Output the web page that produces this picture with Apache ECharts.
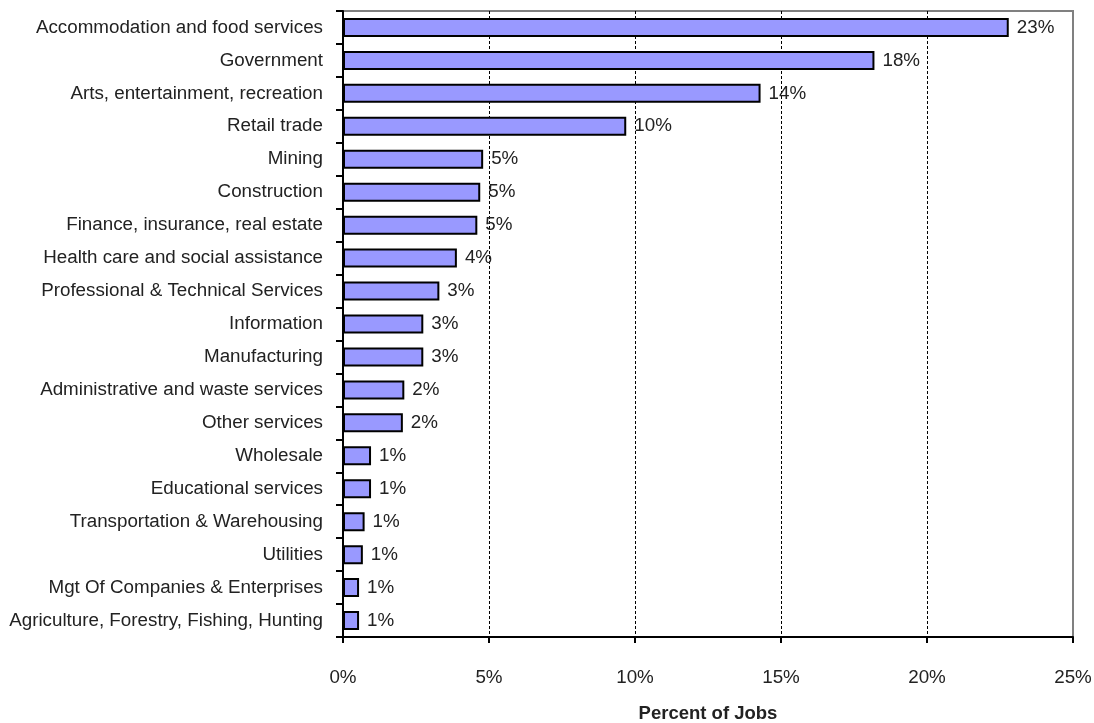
<!DOCTYPE html>
<html>
<head>
<meta charset="utf-8">
<script src="https://cdn.jsdelivr.net/npm/echarts@6/dist/echarts.min.js"></script>
<style>
  html, body { margin: 0; padding: 0; background: #fff; }
  #chart { width: 1094px; height: 723px; }
</style>
</head>
<body>
<div id="chart"></div>
<script>
// Share of jobs by industry (percent)
const industries = [
  'Accommodation and food services',
  'Government',
  'Arts, entertainment, recreation',
  'Retail trade',
  'Mining',
  'Construction',
  'Finance, insurance, real estate',
  'Health care and social assistance',
  'Professional & Technical Services',
  'Information',
  'Manufacturing',
  'Administrative and waste services',
  'Other services',
  'Wholesale',
  'Educational services',
  'Transportation & Warehousing',
  'Utilities',
  'Mgt Of Companies & Enterprises',
  'Agriculture, Forestry, Fishing, Hunting'
];
const percentOfJobs = [
  22.8, 18.2, 14.3, 9.7, 4.8, 4.7, 4.6, 3.9, 3.3, 2.75, 2.75,
  2.1, 2.05, 0.96, 0.96, 0.74, 0.68, 0.55, 0.55
];
const xTicks = [0, 5, 10, 15, 20, 25];

const FONT = '"Liberation Sans", Arial, sans-serif';
const TEXT = '#222';
const FS = 18.8;

const chart = echarts.init(document.getElementById('chart'), null, { renderer: 'canvas' });
chart.setOption({
  animation: false,
  backgroundColor: '#fff',
  textStyle: { fontFamily: FONT },
  grid: {
    left: 343, right: 21, top: 11, bottom: 86,
    containLabel: false,
    outerBoundsMode: 'none',
    show: true, borderColor: '#808080', borderWidth: 2, backgroundColor: 'transparent'
  },
  xAxis: {
    type: 'value',
    min: xTicks[0],
    max: xTicks[xTicks.length - 1],
    interval: xTicks[1] - xTicks[0],
    axisLine: { show: true, onZero: false, lineStyle: { color: '#000', width: 2 } },
    axisTick: { show: true, length: 6, lineStyle: { color: '#000', width: 2 } },
    axisLabel: {
      margin: 31, fontSize: FS, color: TEXT, fontFamily: FONT,
      formatter: v => v + '%'
    },
    splitLine: {
      show: true,
      lineStyle: {
        color: ['rgba(0,0,0,0)', '#000', '#000', '#000', '#000', 'rgba(0,0,0,0)'],
        type: [3, 2], width: 1
      }
    },
    name: 'Percent of Jobs',
    nameLocation: 'middle',
    nameGap: 67,
    nameTextStyle: { fontSize: 18.5, fontWeight: 'bold', color: TEXT, fontFamily: FONT }
  },
  yAxis: {
    type: 'category',
    data: industries,
    inverse: true,
    axisLine: { show: true, lineStyle: { color: '#000', width: 2 } },
    axisTick: { show: true, length: 7, alignWithLabel: false, lineStyle: { color: '#000', width: 2 } },
    axisLabel: { margin: 20, fontSize: FS, color: TEXT, fontFamily: FONT },
    splitLine: { show: false }
  },
  series: [{
    type: 'bar',
    data: percentOfJobs,
    barWidth: 19,
    itemStyle: { color: '#9999FF', borderColor: '#000', borderWidth: 2 },
    label: {
      show: true,
      position: 'right',
      distance: 8,
      fontSize: FS,
      color: TEXT,
      fontFamily: FONT,
      formatter: p => Math.round(p.value) + '%'
    }
  }]
});
</script>
</body>
</html>
